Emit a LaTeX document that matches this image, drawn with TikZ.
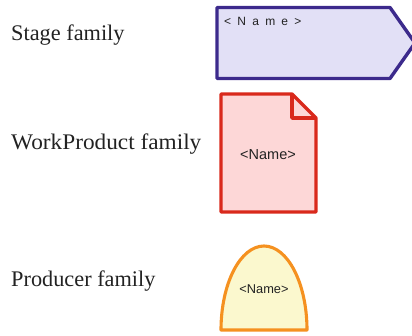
\documentclass[tikz,border=0pt]{standalone}
\usepackage{fontspec}
\setmainfont{Liberation Serif}
\newfontfamily\shapefont{Liberation Sans}
\definecolor{stagefill}{HTML}{E2E0F6}
\definecolor{stagedraw}{HTML}{3C2A8C}
\definecolor{wpfill}{HTML}{FDD7D7}
\definecolor{wpdraw}{HTML}{D9291C}
\definecolor{prodfill}{HTML}{FBF8CE}
\definecolor{proddraw}{HTML}{F59120}
\definecolor{txt}{HTML}{222222}
\tikzset{
  famlabel/.style={anchor=base west, inner sep=0pt, font=\fontsize{22.3}{26}\selectfont, text=txt},
  shapetext/.style={inner sep=0pt, text=txt},
  outline/.style={line width=3.4pt, line join=round}
}
\begin{document}
\begin{tikzpicture}[x=1pt,y=1pt]
\useasboundingbox (0,0) rectangle (412,335);
% labels
\node[famlabel] (lstage) at (11,294.5) {Stage family};
\node[famlabel, xscale=1.044] (lwp) at (11,185.5) {WorkProduct family};
\node[famlabel] (lprod) at (11,49) {Producer family};
% Stage shape
\draw[outline, draw=stagedraw, fill=stagefill] (217,327.5) -- (390,327.5) -- (415,292) -- (390,256.5) -- (217,256.5) -- cycle;
\node[shapetext, anchor=west, font=\shapefont\fontsize{12}{14}\selectfont\addfontfeature{LetterSpace=52}] (tstage) at (224,314) {<Name>};
% WorkProduct shape
\draw[outline, draw=wpdraw, fill=wpfill] (221,241) -- (292,241) -- (316,217) -- (316,123) -- (221,123) -- cycle;
\draw[outline, draw=wpdraw] (292,241) -- (292,217) -- (316,217);
\node[shapetext, font=\shapefont\fontsize{14.5}{16}\selectfont] (twp) at (268,180) {<Name>};
% Producer shape
\draw[outline, draw=proddraw, fill=prodfill, line width=3.1pt] (221,5) arc[start angle=180, end angle=0, x radius=43, y radius=84] -- cycle;
\node[shapetext, font=\shapefont\fontsize{12.8}{15}\selectfont] (tprod) at (264,46) {<Name>};
\end{tikzpicture}
\end{document}
